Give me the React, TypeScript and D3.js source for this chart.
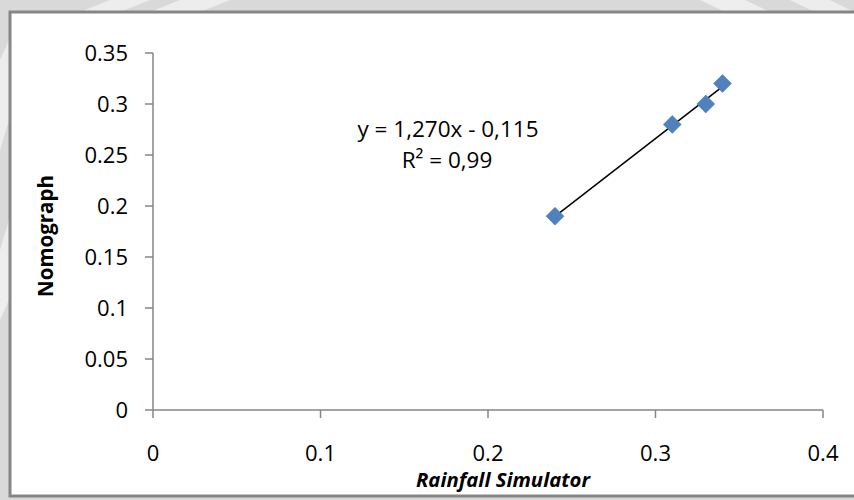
import React from "react";
import * as d3 from "d3";

const rainfallSimulator = [0.24, 0.31, 0.33, 0.34];
const nomograph = [0.19, 0.28, 0.3, 0.32];
const xTicks = [0, 0.1, 0.2, 0.3, 0.4];
const yTicks = [0, 0.05, 0.1, 0.15, 0.2, 0.25, 0.3, 0.35];
const equationLabel = "y = 1,270x - 0,115";
const r2Label = "R² = 0,99";
const xTitle = "Rainfall Simulator";
const yTitle = "Nomograph";

const W = 854;
const H = 500;
const FONT = "'Open Sans', 'Noto Sans', sans-serif";
const AXIS = "#868686";

export default function App() {
  const x = d3.scaleLinear().domain([0, 0.4]).range([153, 823]);
  const y = d3.scaleLinear().domain([0, 0.35]).range([410, 53]);

  const n = rainfallSimulator.length;
  const mx = d3.mean(rainfallSimulator) as number;
  const my = d3.mean(nomograph) as number;
  let sxy = 0;
  let sxx = 0;
  for (let i = 0; i < n; i++) {
    sxy += (rainfallSimulator[i] - mx) * (nomograph[i] - my);
    sxx += (rainfallSimulator[i] - mx) ** 2;
  }
  const slope = sxy / sxx;
  const intercept = my - slope * mx;
  const x0 = d3.min(rainfallSimulator) as number;
  const x1 = d3.max(rainfallSimulator) as number;
  const trend = d3.line<number>()
    .x((d) => x(d))
    .y((d) => y(slope * d + intercept))([x0, x1]);

  const r = 9;
  const diamond = `M0,${-r}L${r},0L0,${r}L${-r},0Z`;

  return (
    <div style={{ position: "absolute", left: 0, top: 0 }}>
      <svg width={W} height={H} style={{ display: "block" }}>
        <rect x={0} y={0} width={W} height={H} fill="#d9d9d9" />
        <g fill="#ffffff" opacity={0.55}>
          <polygon points="110,0 150,0 120,12 80,12" />
          <polygon points="180,0 230,0 200,12 150,12" />
          <polygon points="700,0 745,0 770,12 725,12" />
          <polygon points="790,0 830,0 854,12 815,12" />
          <polygon points="0,60 9,40 9,120 0,150" />
          <polygon points="0,250 9,220 9,300 0,320" />
        </g>
        <rect x={10} y={12} width={W + 10} height={484} fill="#ffffff" stroke={AXIS} strokeWidth={3} />

        {/* y axis */}
        <line x1={x(0)} x2={x(0)} y1={y(0)} y2={y(0.35)} stroke={AXIS} strokeWidth={1.5} />
        {yTicks.map((t) => (
          <g key={"y" + t}>
            <line x1={x(0) - 8} x2={x(0)} y1={y(t)} y2={y(t)} stroke={AXIS} strokeWidth={1.5} />
            <text x={128} y={y(t)} dy="0.36em" textAnchor="end" fontFamily={FONT} fontSize={22} fill="#000">
              {String(t)}
            </text>
          </g>
        ))}

        {/* x axis */}
        <line x1={x(0)} x2={x(0.4)} y1={y(0)} y2={y(0)} stroke={AXIS} strokeWidth={1.5} />
        {xTicks.map((t) => (
          <g key={"x" + t}>
            <line x1={x(t)} x2={x(t)} y1={y(0)} y2={y(0) + 8} stroke={AXIS} strokeWidth={1.5} />
            <text x={x(t)} y={461} textAnchor="middle" fontFamily={FONT} fontSize={22} fill="#000">
              {String(t)}
            </text>
          </g>
        ))}

        {/* trendline */}
        <path d={trend as string} stroke="#000" strokeWidth={1.5} fill="none" />

        {/* points */}
        {rainfallSimulator.map((v, i) => (
          <path key={"p" + i} d={diamond} transform={`translate(${x(v)},${y(nomograph[i])})`} fill="#4f81bd" stroke="#4a7ab5" strokeWidth={0.5} />
        ))}

        {/* equation */}
        <text x={448} y={137} textAnchor="middle" fontFamily={FONT} fontSize={22.5} fill="#000">
          {equationLabel}
        </text>
        <text x={447} y={168} textAnchor="middle" fontFamily={FONT} fontSize={22.5} fill="#000">
          {r2Label}
        </text>

        {/* titles */}
        <text
          transform="translate(53,236) rotate(-90)"
          textAnchor="middle"
          fontFamily={FONT}
          fontWeight="bold"
          fontSize={20.5}
          fill="#000"
        >
          {yTitle}
        </text>
        <text
          x={416}
          y={487}
          textLength={174}
          lengthAdjust="spacingAndGlyphs"
          fontFamily={FONT}
          fontWeight="bold"
          fontStyle="italic"
          fontSize={20}
          fill="#000"
        >
          {xTitle}
        </text>
      </svg>
    </div>
  );
}
